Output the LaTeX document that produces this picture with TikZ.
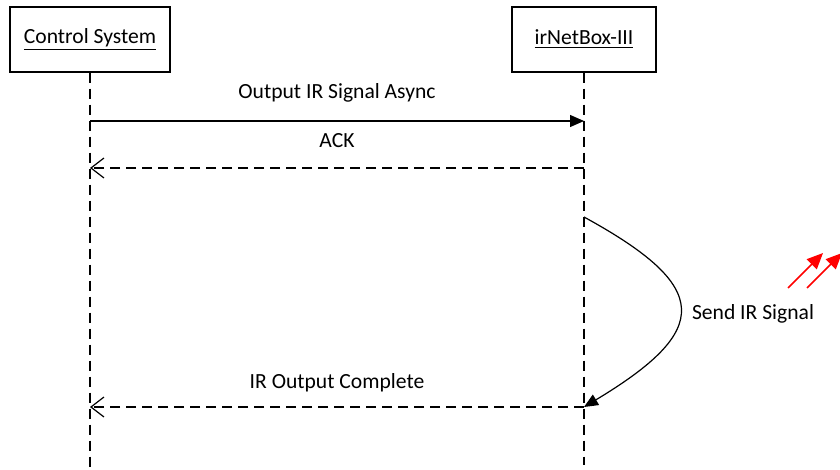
\documentclass[tikz,border=0pt]{standalone}
\usepackage{fontspec}
\setmainfont{Carlito}
\usetikzlibrary{arrows.meta}
\begin{document}
\begin{tikzpicture}[x=0.5pt,y=-0.5pt,
	actor/.style={draw,line width=0.6pt,minimum width=80pt,minimum height=32.5pt,font=\fontsize{10.8}{13}\selectfont},
	lifeline/.style={line width=0.6pt,dash pattern=on 5pt off 3pt},
	msg/.style={line width=0.6pt,-{Triangle[length=7pt,width=6pt]}},
	reply/.style={line width=0.6pt,dash pattern=on 5pt off 3pt,-{Straight Barb[length=6.5pt,width=10pt]}},
	lbl/.style={font=\fontsize{10.8}{13}\selectfont,inner sep=0pt,anchor=base}]
	\useasboundingbox (0,0) rectangle (840,470);
	% actors and lifelines
	\node[actor] (cs) at (90,39.5) {\underline{Control System}};
	\node[actor,minimum width=72pt] (nb) at (584,39.5) {\underline{irNetBox-III}};
	\coordinate (csend) at (90,470);
	\coordinate (nbend) at (584,465);
	\draw[lifeline] (cs) -- (csend);
	\draw[lifeline] (nb) -- (nbend);
	% message points
	\coordinate (cs1) at (90,121);
	\coordinate (nb1) at (584,121);
	\coordinate (cs2) at (90,168);
	\coordinate (nb2) at (584,168);
	\coordinate (nb3) at (584,217);
	\coordinate (cs4) at (90,407);
	\coordinate (nb4) at (584,407);
	% messages
	\draw[msg] (cs1) -- (nb1);
	\node[lbl] (out) at (337,99) {Output IR Signal Async};
	\draw[reply] (nb2) -- (cs2);
	\node[lbl] (ack) at (337,148) {ACK};
	\draw[msg] (nb3) .. controls (712,287) and (712,330) .. (nb4);
	\node[lbl] (send) at (753,319) {Send IR Signal};
	\draw[reply] (nb4) -- (cs4);
	\node[lbl] (done) at (337,388) {IR Output Complete};
	% red marks
	\draw[red,line width=0.8pt,-{Triangle[length=8pt,width=7pt]}] (788,288) -- (823,253);
	\draw[red,line width=0.8pt,-{Triangle[length=8pt,width=7pt]}] (807,288) -- (842,253);
\end{tikzpicture}
\end{document}
